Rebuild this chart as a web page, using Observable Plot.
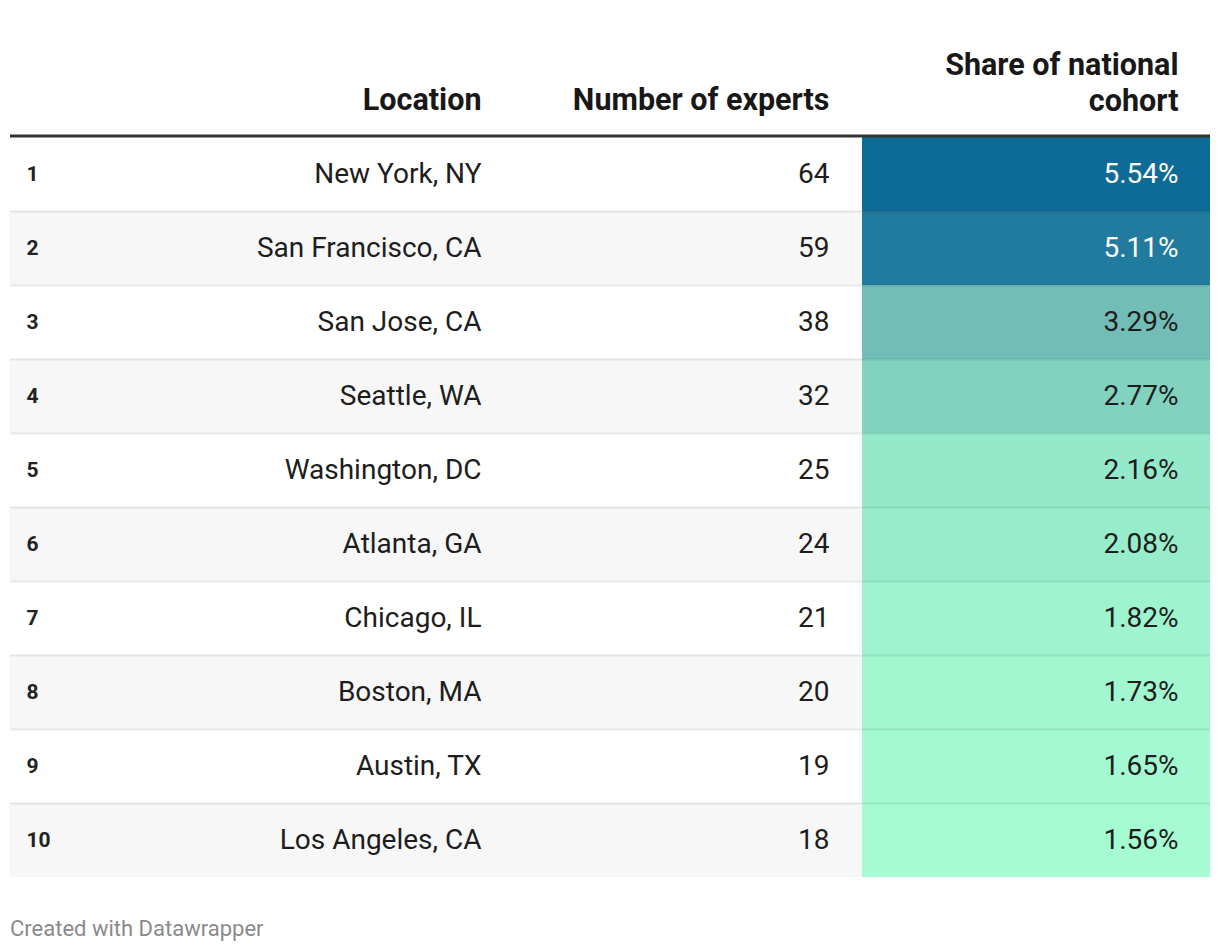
<!DOCTYPE html>
<html>
<head>
<meta charset="utf-8">
<script src="https://cdn.jsdelivr.net/npm/d3@7"></script>
<script src="https://cdn.jsdelivr.net/npm/@observablehq/plot@0.6"></script>
<style>
  html, body { margin: 0; padding: 0; background: #fff; }
  body { width: 1220px; font-family: Roboto, "Noto Sans", sans-serif; }
  #chart svg { display: block; }
  .caption { margin: 36px 0 0 10px; font-size: 22px; color: #8a8a8a; font-family: Roboto, sans-serif; }
</style>
</head>
<body>
<div id="chart"></div>
<div class="caption">Created with Datawrapper</div>
<script>
// ---- data ----
const ranks = [1, 2, 3, 4, 5, 6, 7, 8, 9, 10];
const locations = ["New York, NY", "San Francisco, CA", "San Jose, CA", "Seattle, WA", "Washington, DC",
  "Atlanta, GA", "Chicago, IL", "Boston, MA", "Austin, TX", "Los Angeles, CA"];
const experts = [64, 59, 38, 32, 25, 24, 21, 20, 19, 18];
const shares = [5.54, 5.11, 3.29, 2.77, 2.16, 2.08, 1.82, 1.73, 1.65, 1.56];
const headers = ["Location", "Number of experts", "Share of national\ncohort"];

// colour scale stops
const colorDomain = [1.56, 2.2, 3.3, 5.54];
const colorRange = ["#a6fcd2", "#93e8c9", "#72bdb8", "#0e6b98"];

// ---- layout (column positions in table units) ----
const COL = { rankLeft: 16, locRight: 471, numRight: 819, shareX1: 852, shareX2: 1200, shareRight: 1168, tableEnd: 1200 };

const rows = ranks.map((r, i) => ({ rank: r, location: locations[i], experts: experts[i], share: shares[i] }));

const font = "Roboto, sans-serif";
const bodySize = 28;
const headSize = 30.5;
const chart = Plot.plot({
  width: 1220,
  height: 880,
  marginTop: 137,
  marginBottom: 3,
  marginLeft: 10,
  marginRight: 10,
  style: { fontFamily: font, background: "#fff" },
  x: { domain: [0, COL.tableEnd], axis: null },
  y: { domain: [ranks.length, 0], axis: null },
  color: { type: "linear", domain: colorDomain, range: colorRange, interpolate: "rgb" },
  marks: [
    // alternating row backgrounds
    Plot.rect(rows.filter(d => d.rank % 2 === 0), {
      x1: () => 0, x2: () => COL.shareX1, y1: d => d.rank - 1, y2: d => d.rank, fill: "#f7f7f7"
    }),
    // heat cells
    Plot.rect(rows, {
      x1: () => COL.shareX1, x2: () => COL.shareX2, y1: d => d.rank - 1, y2: d => d.rank, fill: "share"
    }),
    // row separators
    Plot.ruleY(rows.slice(0, -1), { y: "rank", x1: 0, x2: COL.tableEnd, stroke: "#000", strokeOpacity: 0.08, strokeWidth: 2 }),
    // header rule
    Plot.ruleY([0], { x1: 0, x2: COL.tableEnd, stroke: "#333", strokeWidth: 3, dy: -1.5 }),
    // rank
    Plot.text(rows, { x: () => COL.rankLeft, y: d => d.rank - 0.5, text: d => String(d.rank), textAnchor: "start",
      fontWeight: "bold", fontSize: 21, fill: "#222" }),
    // location
    Plot.text(rows, { x: () => COL.locRight, y: d => d.rank - 0.5, text: "location", textAnchor: "end",
      fontSize: bodySize, fill: "#1d1d1d" }),
    // experts
    Plot.text(rows, { x: () => COL.numRight, y: d => d.rank - 0.5, text: d => String(d.experts), textAnchor: "end",
      fontSize: bodySize, fill: "#1d1d1d" }),
    // share
    Plot.text(rows, { x: () => COL.shareRight, y: d => d.rank - 0.5, text: d => d.share.toFixed(2) + "%", textAnchor: "end",
      fontSize: bodySize, fill: d => d.share > 4 ? "#fff" : "#1d1d1d" }),
    // headers
    Plot.text([headers[0]], { x: () => COL.locRight, frameAnchor: "top", dy: -37, text: d => d, textAnchor: "end",
      lineAnchor: "middle", fontWeight: "bold", fontSize: headSize, fill: "#181818" }),
    Plot.text([headers[1]], { x: () => COL.numRight, frameAnchor: "top", dy: -37, text: d => d, textAnchor: "end",
      lineAnchor: "middle", fontWeight: "bold", fontSize: headSize, fill: "#181818" }),
    Plot.text([headers[2]], { x: () => COL.shareRight, frameAnchor: "top", dy: -56, text: d => d, textAnchor: "end",
      lineAnchor: "middle", lineHeight: 36 / headSize, fontWeight: "bold", fontSize: headSize, fill: "#181818" })
  ]
});
document.getElementById("chart").appendChild(chart);
</script>
</body>
</html>
